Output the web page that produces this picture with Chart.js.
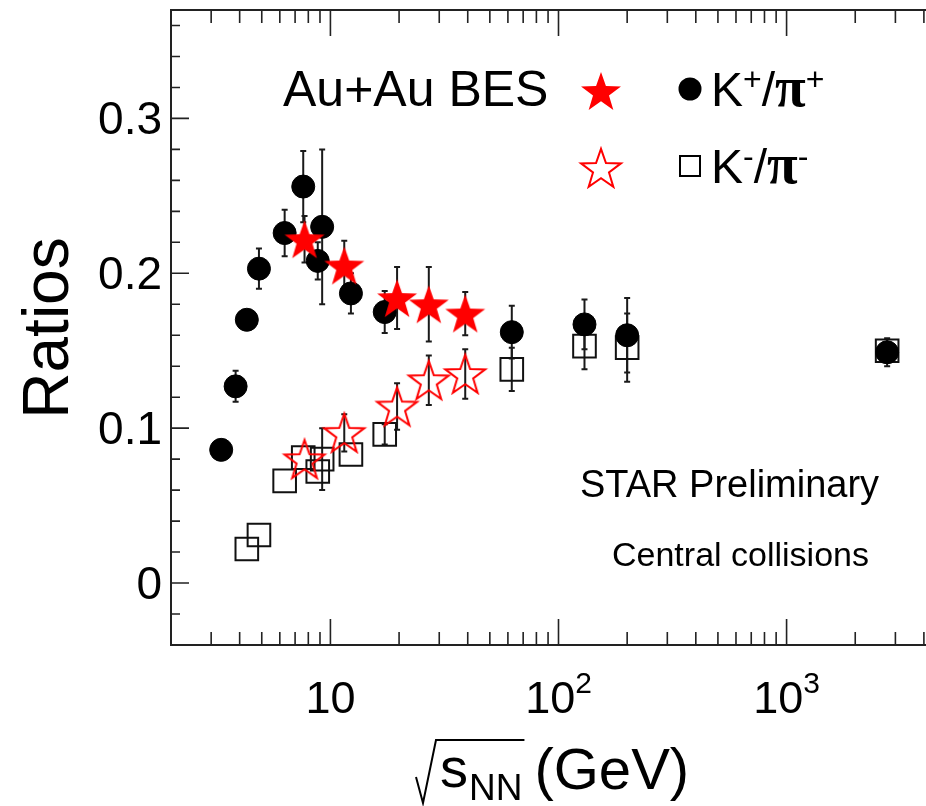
<!DOCTYPE html>
<html>
<head>
<meta charset="utf-8">
<title>K/pi ratios vs collision energy</title>
<script src="https://cdn.jsdelivr.net/npm/chart.js@4.4.1/dist/chart.umd.min.js"></script>
<style>
  html, body { margin: 0; padding: 0; background: #fff; overflow: hidden; }
  canvas { display: block; }
</style>
</head>
<body>
<canvas id="ratioChart" width="948" height="806"></canvas>
<script>
// Au+Au BES energies (GeV) and ratios
const energyBES = [7.7, 11.5, 19.6, 27, 39];
const kPlusBES = [0.222, 0.205, 0.184, 0.180, 0.174];
const kPlusBESErr = [0.015, 0.016, 0.020, 0.024, 0.014];
const kMinusBES = [0.080, 0.097, 0.114, 0.131, 0.135];
const kMinusBESErr = [0, 0.012, 0.015, 0.016, 0.016];

// AGS / SPS / RHIC / LHC
const energyPlus = [3.32, 3.84, 4.3, 4.86, 6.3, 7.6, 8.8, 9.2, 12.3, 17.3, 62.4, 130, 200, 2760];
const kPlus = [0.086, 0.127, 0.170, 0.203, 0.226, 0.256, 0.208, 0.230, 0.187, 0.175, 0.162, 0.167, 0.160, 0.149];
const kPlusErr = [0, 0.010, 0, 0.013, 0.015, 0.023, 0.012, 0.050, 0.013, 0.0135, 0.017, 0.016, 0.024, 0.009];

const energyMinus = [4.3, 4.86, 6.3, 7.6, 8.8, 9.2, 12.3, 17.3, 62.4, 130, 200, 2760];
const kMinus = [0.022, 0.031, 0.066, 0.081, 0.072, 0.080, 0.083, 0.096, 0.138, 0.153, 0.152, 0.150];
const kMinusErr = [0, 0, 0, 0, 0, 0.020, 0, 0.0065, 0.014, 0.015, 0.022, 0];

// axis ticks
const yTicks = [0, 0.1, 0.2, 0.3];
const yTickLabels = ['0', '0.1', '0.2', '0.3'];
const xTicks = [10, 100, 1000];
const xTickBase = ['10', '10', '10'];
const xTickExp = ['', '2', '3'];

const SANS = '"Liberation Sans", Arial, Helvetica, sans-serif';
const SERIF = '"Liberation Serif", "DejaVu Serif", serif';

// five-pointed star drawn once into a small canvas, used as pointStyle
function makeStar(r, filled, color) {
  const lw = 2;
  const size = 2 * Math.ceil(r + lw + 1);
  const c = document.createElement('canvas');
  c.width = size; c.height = size;
  const g = c.getContext('2d');
  const cx = size / 2, cy = size / 2 + r * 0.09;
  g.beginPath();
  for (let i = 0; i < 10; i++) {
    const rr = i % 2 ? r * 0.4 : r;
    const a = -Math.PI / 2 + i * Math.PI / 5;
    g.lineTo(cx + rr * Math.cos(a), cy + rr * Math.sin(a));
  }
  g.closePath();
  if (filled) { g.fillStyle = color; g.fill(); }
  else { g.lineWidth = lw; g.strokeStyle = color; g.stroke(); }
  return c;
}

const starFilled = makeStar(21, true, '#ff0000');
const starOpen = makeStar(21, false, '#ff0000');

function toPoints(xs, ys) {
  return xs.map((x, i) => ({ x: x, y: ys[i] }));
}

// vertical error bars with small caps, under the markers
const errorBars = {
  id: 'errorBars',
  beforeDatasetsDraw(chart) {
    const { ctx, scales: { x, y } } = chart;
    ctx.save();
    ctx.strokeStyle = '#1a1a1a';
    ctx.lineWidth = 2;
    chart.data.datasets.forEach(ds => {
      if (!ds.errors) return;
      ds.data.forEach((p, i) => {
        const e = ds.errors[i];
        if (!e) return;
        const px = x.getPixelForValue(p.x);
        const top = y.getPixelForValue(p.y + e);
        const bot = y.getPixelForValue(p.y - e);
        ctx.beginPath();
        ctx.moveTo(px, top); ctx.lineTo(px, bot);
        ctx.moveTo(px - 3, top); ctx.lineTo(px + 3, top);
        ctx.moveTo(px - 3, bot); ctx.lineTo(px + 3, bot);
        ctx.stroke();
      });
    });
    ctx.restore();
  }
};

// box around the plot with inward ticks on all sides
const frame = {
  id: 'frame',
  beforeDatasetsDraw(chart) {
    const { ctx, chartArea: a, scales: { x, y } } = chart;
    ctx.save();
    ctx.strokeStyle = '#222';
    ctx.lineWidth = 2;
    ctx.strokeRect(a.left, a.top, a.right - a.left, a.bottom - a.top);
    ctx.lineWidth = 1.6;
    ctx.beginPath();
    for (let i = -1; i <= 18; i++) {
      const py = y.getPixelForValue(i * 0.02);
      const len = i % 5 === 0 ? 18 : 9;
      ctx.moveTo(a.left, py); ctx.lineTo(a.left + len, py);
      ctx.moveTo(a.right, py); ctx.lineTo(a.right - len, py);
    }
    for (let d = 1; d <= 1000; d *= 10) {
      for (let m = 1; m <= 9; m++) {
        const v = m * d;
        if (v <= x.min || v >= x.max) continue;
        const px = x.getPixelForValue(v);
        const len = m === 1 ? 26 : 13;
        ctx.moveTo(px, a.bottom); ctx.lineTo(px, a.bottom - len);
        ctx.moveTo(px, a.top); ctx.lineTo(px, a.top + len);
      }
    }
    ctx.stroke();
    ctx.restore();
  }
};

// tick labels, axis titles, legend and notes
const textLayer = {
  id: 'textLayer',
  afterDraw(chart) {
    const { ctx, scales: { x, y } } = chart;
    ctx.save();
    ctx.fillStyle = '#000';
    ctx.textBaseline = 'alphabetic';

    // y tick labels
    ctx.font = '46px ' + SANS;
    ctx.textAlign = 'right';
    yTicks.forEach((v, i) => {
      ctx.fillText(yTickLabels[i], 162, y.getPixelForValue(v) + 16);
    });

    // x tick labels: 10, 10^2, 10^3
    ctx.textAlign = 'left';
    xTicks.forEach((v, i) => {
      ctx.font = '45px ' + SANS;
      const wb = ctx.measureText(xTickBase[i]).width;
      ctx.font = '30px ' + SANS;
      const we = xTickExp[i] ? ctx.measureText(xTickExp[i]).width : 0;
      const x0 = x.getPixelForValue(v) - (wb + we) / 2;
      ctx.font = '45px ' + SANS;
      ctx.fillText(xTickBase[i], x0, 713);
      if (xTickExp[i]) {
        ctx.font = '30px ' + SANS;
        ctx.fillText(xTickExp[i], x0 + wb, 693);
      }
    });

    // x title: sqrt(s_NN) (GeV)
    let cx = 440;
    ctx.font = '56px ' + SANS;
    ctx.fillText('s', cx, 787);
    cx += ctx.measureText('s').width + 1;
    ctx.font = '37px ' + SANS;
    ctx.fillText('NN', cx, 800);
    cx += ctx.measureText('NN').width;
    const barEnd = cx + 2;
    ctx.save();
    ctx.strokeStyle = '#000';
    ctx.lineWidth = 2;
    ctx.beginPath();
    ctx.moveTo(416, 777);
    ctx.lineTo(423, 803);
    ctx.lineTo(436, 740);
    ctx.lineTo(barEnd, 740);
    ctx.stroke();
    ctx.restore();
    ctx.font = '58px ' + SANS;
    ctx.fillText('(GeV)', cx + 12, 789);

    // y title
    ctx.save();
    ctx.translate(68, 328);
    ctx.rotate(-Math.PI / 2);
    ctx.textAlign = 'center';
    ctx.font = '64px ' + SANS;
    ctx.fillText('Ratios', 0, 0);
    ctx.restore();

    // legend
    ctx.textAlign = 'left';
    ctx.font = '50px ' + SANS;
    ctx.fillText('Au+Au BES', 283, 106);
    ctx.drawImage(starFilled, 601 - starFilled.width / 2, 91 - starFilled.height / 2);
    ctx.drawImage(starOpen, 601 - starOpen.width / 2, 168 - starOpen.height / 2);

    ctx.beginPath();
    ctx.arc(690, 89, 11.5, 0, Math.PI * 2);
    ctx.fill();
    ctx.save();
    ctx.strokeStyle = '#000';
    ctx.lineWidth = 2;
    ctx.strokeRect(680, 156, 20, 20);
    ctx.restore();

    const charge = (baseY, sign) => {
      let lx = 711;
      ctx.font = '48px ' + SANS;
      ctx.fillText('K', lx, baseY);
      lx += ctx.measureText('K').width;
      ctx.font = '32px ' + SANS;
      ctx.fillText(sign, lx, baseY - 16);
      lx += ctx.measureText(sign).width;
      ctx.font = '48px ' + SANS;
      ctx.fillText('/', lx, baseY);
      lx += ctx.measureText('/').width;
      ctx.font = 'bold 56px ' + SERIF;
      ctx.fillText('\u03c0', lx, baseY);
      lx += ctx.measureText('\u03c0').width;
      ctx.font = '32px ' + SANS;
      ctx.fillText(sign, lx, baseY - 16);
    };
    charge(106, '+');
    charge(183, '-');

    // notes
    ctx.font = '38px ' + SANS;
    ctx.fillText('STAR Preliminary', 580, 497);
    ctx.font = '34px ' + SANS;
    ctx.fillText('Central collisions', 612, 566);
    ctx.restore();
  }
};

new Chart(document.getElementById('ratioChart'), {
  type: 'scatter',
  data: {
    datasets: [
      {
        label: 'K+/pi+ BES',
        data: toPoints(energyBES, kPlusBES),
        errors: kPlusBESErr,
        pointStyle: starFilled,
        pointRadius: 21
      },
      {
        label: 'K-/pi- BES',
        data: toPoints(energyBES, kMinusBES),
        errors: kMinusBESErr,
        pointStyle: starOpen,
        pointRadius: 21
      },
      {
        label: 'K+/pi+',
        data: toPoints(energyPlus, kPlus),
        errors: kPlusErr,
        pointStyle: 'circle',
        pointRadius: 11.5,
        pointBackgroundColor: '#000',
        pointBorderColor: '#000',
        pointBorderWidth: 1
      },
      {
        label: 'K-/pi-',
        data: toPoints(energyMinus, kMinus),
        errors: kMinusErr,
        pointStyle: 'rect',
        pointRadius: 16,
        pointBackgroundColor: 'rgba(0,0,0,0)',
        pointBorderColor: '#111',
        pointBorderWidth: 2
      }
    ]
  },
  options: {
    responsive: false,
    animation: false,
    layout: { autoPadding: false, padding: { left: 171, right: 2, top: 10, bottom: 161 } },
    plugins: { legend: { display: false }, tooltip: { enabled: false } },
    scales: {
      x: { type: 'logarithmic', min: 2, max: 5000, display: false },
      y: { type: 'linear', min: -0.04, max: 0.37, display: false }
    }
  },
  plugins: [frame, errorBars, textLayer]
});
</script>
</body>
</html>
